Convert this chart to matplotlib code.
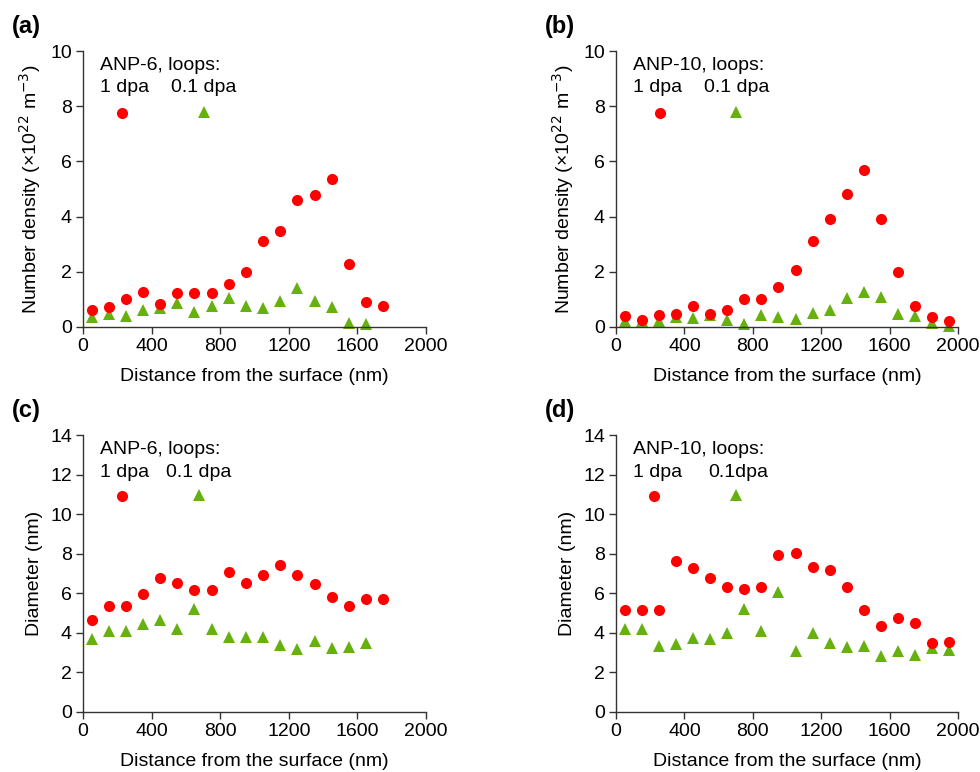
import matplotlib.pyplot as plt

plt.rcParams['font.family'] = ['Liberation Sans', 'DejaVu Sans']

# depth bins (nm)
depth_18 = [50, 150, 250, 350, 450, 550, 650, 750, 850, 950,
            1050, 1150, 1250, 1350, 1450, 1550, 1650, 1750]
depth_17 = depth_18[:17]
depth_20 = depth_18 + [1850, 1950]

# (a) ANP-6 number density (x1e22 m^-3)
dens6_1dpa = [0.63, 0.71, 1.00, 1.26, 0.82, 1.24, 1.24, 1.24, 1.56, 1.98,
              3.10, 3.48, 4.61, 4.79, 5.35, 2.28, 0.89, 0.75]
dens6_01dpa = [0.38, 0.48, 0.40, 0.62, 0.70, 0.88, 0.55, 0.75, 1.05, 0.75,
               0.70, 0.95, 1.42, 0.95, 0.72, 0.15, 0.12]

# (b) ANP-10 number density
dens10_1dpa = [0.39, 0.27, 0.45, 0.48, 0.76, 0.48, 0.63, 1.01, 1.01, 1.46,
               2.08, 3.13, 3.90, 4.82, 5.68, 3.90, 1.98, 0.75, 0.35, 0.22]
dens10_01dpa = [0.20, 0.22, 0.22, 0.35, 0.32, 0.45, 0.25, 0.10, 0.42, 0.35,
                0.30, 0.52, 0.60, 1.05, 1.28, 1.10, 0.48, 0.40, 0.15, 0.05]

# (c) ANP-6 diameter (nm)
diam6_1dpa = [4.64, 5.36, 5.38, 5.94, 6.78, 6.51, 6.17, 6.16, 7.07, 6.53,
              6.93, 7.44, 6.91, 6.46, 5.82, 5.35, 5.73, 5.73]
diam6_01dpa = [3.71, 4.10, 4.10, 4.43, 4.67, 4.20, 5.23, 4.18, 3.79, 3.78,
               3.81, 3.39, 3.19, 3.61, 3.25, 3.29, 3.47]

# (d) ANP-10 diameter (nm)
diam10_1dpa = [5.13, 5.13, 5.13, 7.61, 7.27, 6.75, 6.32, 6.21, 6.31, 7.93,
               8.03, 7.35, 7.17, 6.31, 5.16, 4.37, 4.74, 4.49, 3.51, 3.52]
diam10_01dpa = [4.20, 4.20, 3.36, 3.42, 3.74, 3.68, 4.00, 5.21, 4.11, 6.04,
                3.10, 4.01, 3.47, 3.31, 3.36, 2.85, 3.09, 2.90, 3.24, 3.15]

RED = '#ff0000'
GREEN = '#66b010'
FS = 14

fig = plt.figure(figsize=(9.8, 7.72), dpi=100)

# pixel boxes for each panel: left, top, right, bottom
W, H = 980, 772
boxes = {
    'a': (83, 51, 426, 327),
    'b': (616, 51, 958, 327),
    'c': (83, 435, 426, 712),
    'd': (616, 435, 958, 712),
}

panels = [
    ('a', depth_18, dens6_1dpa, depth_17, dens6_01dpa, 10, 2,
     'Number density (×10$^{22}$ m$^{-3}$)', 'ANP-6, loops:', '0.1 dpa',
     0.257, (0.114, 0.775), (0.352, 0.78)),
    ('b', depth_20, dens10_1dpa, depth_20, dens10_01dpa, 10, 2,
     'Number density (×10$^{22}$ m$^{-3}$)', 'ANP-10, loops:', '0.1 dpa',
     0.256, (0.128, 0.775), (0.351, 0.78)),
    ('c', depth_18, diam6_1dpa, depth_17, diam6_01dpa, 14, 2,
     'Diameter (nm)', 'ANP-6, loops:', '0.1 dpa',
     0.242, (0.115, 0.779), (0.337, 0.782)),
    ('d', depth_20, diam10_1dpa, depth_20, diam10_01dpa, 14, 2,
     'Diameter (nm)', 'ANP-10, loops:', '0.1dpa',
     0.271, (0.111, 0.779), (0.351, 0.782)),
]

for (key, x1, y1, x2, y2, ymax, ystep, ylab, head, lab2,
     lab2_x, red_key, green_key) in panels:
    l, t, r, b = boxes[key]
    ax = fig.add_axes([l / W, (H - b) / H, (r - l) / W, (b - t) / H])

    ax.plot(x2, y2, '^', color=GREEN, markersize=9, markeredgewidth=0, clip_on=False)
    ax.plot(x1, y1, 'o', color=RED, markersize=8, markeredgewidth=0, clip_on=False)

    ax.set_xlim(0, 2000)
    ax.set_ylim(0, ymax)
    ax.set_xticks(range(0, 2001, 400))
    ax.set_yticks(range(0, ymax + 1, ystep))
    ax.spines['top'].set_visible(False)
    ax.spines['right'].set_visible(False)
    for s in ('left', 'bottom'):
        ax.spines[s].set_linewidth(1.0)
        ax.spines[s].set_color('#333333')
    ax.tick_params(direction='out', length=5, width=1, labelsize=FS, pad=3,
                   color='#333333')
    ax.set_xlabel('Distance from the surface (nm)', fontsize=FS, labelpad=9)
    ax.set_ylabel(ylab, fontsize=FS, labelpad=5)

    # hand-made key
    ax.text(0.05, 0.947, head, transform=ax.transAxes, fontsize=FS,
            va='center', ha='left')
    ax.text(0.05, 0.866, '1 dpa', transform=ax.transAxes, fontsize=FS,
            va='center', ha='left')
    ax.text(lab2_x, 0.866, lab2, transform=ax.transAxes, fontsize=FS,
            va='center', ha='left')
    ax.plot(*red_key, 'o', color=RED, markersize=8, markeredgewidth=0,
            transform=ax.transAxes)
    ax.plot(*green_key, '^', color=GREEN, markersize=9, markeredgewidth=0,
            transform=ax.transAxes)

    # panel letter
    lx = 12 if key in ('a', 'c') else 545
    ly = 27 if key in ('a', 'b') else 411
    fig.text(lx / W, 1 - ly / H, '(%s)' % key, fontsize=17, fontweight='bold',
             va='center', ha='left')

fig.savefig('out.png', dpi=100)
